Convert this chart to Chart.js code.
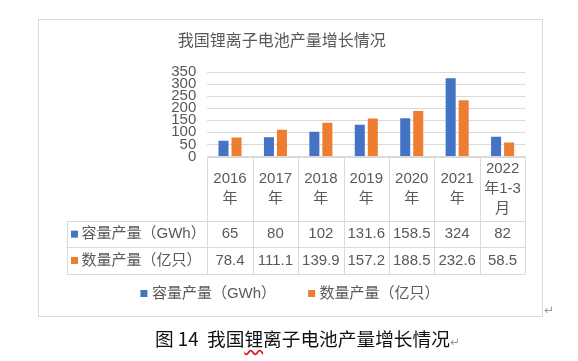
<!DOCTYPE html>
<html>
<head>
<meta charset="utf-8">
<script src="https://cdn.jsdelivr.net/npm/chart.js@4.4.1/dist/chart.umd.min.js"></script>
<style>
    body { margin: 0; background: #fff; }
    #wrap { position: relative; width: 578px; height: 361px; }
    canvas { position: absolute; left: 0; top: 0; }
    .caption {
        position: absolute; left: 155px; top: 325px;
        font: 18.7px "Noto Sans CJK SC", sans-serif; color: #111;
        line-height: 26px; white-space: nowrap;
    }
    .wavy { text-decoration: underline wavy #e02020; text-underline-offset: 3px; text-decoration-skip-ink: none; }
    .ret { color: #9a9a9a; font: 12px "DejaVu Sans", sans-serif; }
    #ret1 { position: absolute; left: 544px; top: 303px; }
</style>
</head>
<body>
<div id="wrap">
    <canvas id="chart" width="578" height="361"></canvas>
    <span id="ret1" class="ret">↵</span>
    <div class="caption">图 14&nbsp; 我国<span class="wavy">锂</span>离子电池产量增长情况<span class="ret">↵</span></div>
</div>
<script>
// Chart data
const chartTitle = '我国锂离子电池产量增长情况';
const categories = [['2016', '年'], ['2017', '年'], ['2018', '年'], ['2019', '年'], ['2020', '年'], ['2021', '年'], ['2022', '年1-3', '月']];
const seriesNames = ['容量产量（GWh）', '数量产量（亿只）'];
const capacityGWh = [65, 80, 102, 131.6, 158.5, 324, 82];
const countYi = [78.4, 111.1, 139.9, 157.2, 188.5, 232.6, 58.5];
const seriesColors = ['#4472C4', '#ED7D31'];

const FONT = '"Liberation Sans", "Noto Sans CJK SC", sans-serif';
const TEXT_COLOR = '#595959';
const LINE_COLOR = '#d9d9d9';

// Draws the outer frame, the data table under the bars and the legend
const dataTablePlugin = {
    id: 'dataTable',
    beforeDraw(chart) {
        const ctx = chart.ctx;
        ctx.save();
        ctx.fillStyle = '#fff';
        ctx.fillRect(0, 0, chart.width, chart.height);
        ctx.strokeStyle = LINE_COLOR;
        ctx.lineWidth = 1;
        ctx.strokeRect(38.5, 19.5, 504, 297);
        ctx.restore();
    },
    afterDraw(chart) {
        const { ctx, chartArea } = chart;
        const x = chart.scales.x;
        const catH = 64.5, rowH = 26.3, labelLeft = 66.5;
        const top = chartArea.bottom;
        const rowTop = top + catH;
        const bottom = rowTop + rowH * 2;
        const colW = (chartArea.right - chartArea.left) / categories.length;
        const px = v => Math.round(v) + 0.5;

        ctx.save();
        ctx.strokeStyle = LINE_COLOR;
        ctx.lineWidth = 1;
        ctx.beginPath();
        // horizontal lines
        ctx.moveTo(chartArea.left, px(top)); ctx.lineTo(chartArea.right, px(top));
        for (let r = 0; r <= 2; r++) {
            const yy = px(rowTop + r * rowH);
            ctx.moveTo(labelLeft, yy); ctx.lineTo(chartArea.right, yy);
        }
        // vertical lines
        ctx.moveTo(px(labelLeft), px(rowTop)); ctx.lineTo(px(labelLeft), px(bottom));
        for (let c = 0; c <= categories.length; c++) {
            const xx = px(chartArea.left + c * colW);
            ctx.moveTo(xx, px(top)); ctx.lineTo(xx, px(bottom));
        }
        ctx.stroke();

        ctx.fillStyle = TEXT_COLOR;
        ctx.font = '15px ' + FONT;
        ctx.textAlign = 'center';
        ctx.textBaseline = 'middle';
        const lineH = 20;
        categories.forEach((lines, i) => {
            const cx = x.getPixelForValue(i);
            const y0 = top + catH / 2 - (lines.length - 1) * lineH / 2;
            lines.forEach((t, j) => ctx.fillText(t, cx, y0 + j * lineH));
        });

        const rows = [capacityGWh, countYi];
        rows.forEach((vals, r) => {
            const cy = rowTop + rowH * r + rowH / 2;
            vals.forEach((v, i) => ctx.fillText(String(v), x.getPixelForValue(i), cy));
            ctx.fillStyle = seriesColors[r];
            ctx.fillRect(labelLeft + 4.5, cy - 3.5, 7, 7);
            ctx.fillStyle = TEXT_COLOR;
            ctx.textAlign = 'left';
            ctx.fillText(seriesNames[r], labelLeft + 15, cy);
            ctx.textAlign = 'center';
        });

        // legend
        const legendY = 293.5, sq = 7, sqGap = 4.5, itemGap = 32;
        ctx.textAlign = 'left';
        const widths = seriesNames.map(n => ctx.measureText(n).width);
        const total = widths.reduce((a, w) => a + sq + sqGap + w, 0) + itemGap;
        let lx = 290 - total / 2;
        seriesNames.forEach((n, i) => {
            ctx.fillStyle = seriesColors[i];
            ctx.fillRect(lx, legendY - sq / 2, sq, sq);
            ctx.fillStyle = TEXT_COLOR;
            ctx.fillText(n, lx + sq + sqGap, legendY);
            lx += sq + sqGap + widths[i] + itemGap;
        });
        ctx.restore();
    }
};

new Chart(document.getElementById('chart'), {
    type: 'bar',
    data: {
        labels: categories,
        datasets: [
            { label: seriesNames[0], data: capacityGWh, backgroundColor: seriesColors[0] },
            { label: seriesNames[1], data: countYi, backgroundColor: seriesColors[1] }
        ]
    },
    options: {
        responsive: false,
        animation: false,
        datasets: { bar: { categoryPercentage: 0.573, barPercentage: 0.77 } },
        layout: { padding: { left: 38, right: 52.7, top: 19, bottom: 87.7 } },
        scales: {
            x: {
                grid: { display: false },
                border: { display: false },
                ticks: { display: false },
                afterFit(s) { s.height = 116.8; }
            },
            y: {
                min: 0,
                max: 350,
                ticks: { stepSize: 50, autoSkip: false, padding: 11, color: TEXT_COLOR, font: { size: 15, family: FONT } },
                grid: { color: LINE_COLOR, drawTicks: false },
                border: { display: false },
                afterFit(s) { s.width = 169.3; }
            }
        },
        plugins: {
            legend: { display: false },
            tooltip: { enabled: false },
            title: {
                display: true,
                text: chartTitle,
                color: TEXT_COLOR,
                font: { size: 16, family: FONT, weight: 'normal' },
                padding: { top: 13.4, bottom: 20.4 }
            }
        }
    },
    plugins: [dataTablePlugin]
});
</script>
</body>
</html>
